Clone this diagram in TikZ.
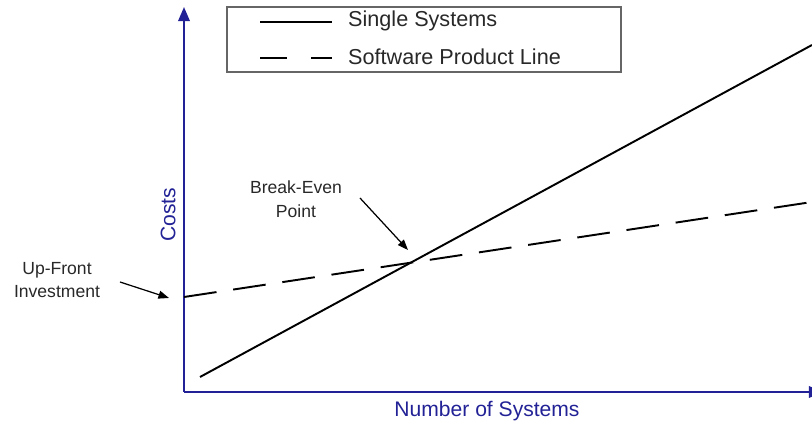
\documentclass[tikz,border=0pt]{standalone}
\usepackage{fontspec}
\setmainfont{Liberation Sans}
\usetikzlibrary{arrows.meta}
\definecolor{axisblue}{RGB}{34,34,150}
\definecolor{notegray}{RGB}{40,40,40}
\tikzset{
  axe/.style={axisblue, line width=1.2pt, -{Triangle[length=8pt,width=6.5pt]}},
  axelabel/.style={text=axisblue, font=\fontsize{12}{14}\selectfont},
  single/.style={line width=1.1pt},
  spl/.style={line width=1.1pt, dash pattern=on 18.7pt off 9.6pt},
  splleg/.style={line width=1.1pt, dash pattern=on 15.3pt off 14pt},
  fleche/.style={line width=0.7pt, -{Triangle[length=6pt,width=4.5pt]}},
  note/.style={text=notegray, font=\fontsize{10}{13.6}\selectfont, align=center},
  legtext/.style={text=notegray, anchor=west, font=\fontsize{12.3}{14}\selectfont},
}
\begin{document}
\begin{tikzpicture}[x=0.02cm, y=-0.02cm]
  \useasboundingbox (0,0) rectangle (812,425);

  % Axes
  \coordinate (O) at (184,392);
  \coordinate (ytop) at (184,7);
  \coordinate (xend) at (823,392);
  \draw[axe] (O) -- (ytop);
  \draw[axe] (O) -- (xend);
  \node[axelabel, rotate=90] (costs) at (168,215) {Costs};
  \node[axelabel] (nbsys) at (487,411) {Number of Systems};

  % Courbes de coûts
  \coordinate (s0) at (200,377);
  \coordinate (s1) at (812,45);
  \coordinate (p0) at (184,297);
  \coordinate (p1) at (812,202);
  \draw[single] (s0) -- (s1);
  \draw[spl] (p0) -- (p1);

  % Légende
  \coordinate (leg1) at (227,7);
  \coordinate (leg2) at (621,72);
  \draw[draw=gray!80!black, line width=0.8pt] (leg1) rectangle (leg2);
  \coordinate (l1a) at (260,22);
  \coordinate (l1b) at (332,22);
  \coordinate (l2a) at (260,58);
  \coordinate (l2b) at (332,58);
  \draw[single] (l1a) -- (l1b);
  \draw[splleg] (l2a) -- (l2b);
  \node[legtext] (single) at (342,21) {Single Systems};
  \node[legtext] (spl) at (342,57) {Software Product Line};

  % Annotations
  \node[note] (upfront) at (57,280) {Up-Front\\Investment};
  \coordinate (uf-a) at (120,282);
  \coordinate (uf-b) at (169,298);
  \draw[fleche] (uf-a) -- (uf-b);

  \node[note] (breakeven) at (296,199) {Break-Even\\Point};
  \coordinate (be-a) at (360,198);
  \coordinate (be-b) at (408,250);
  \draw[fleche] (be-a) -- (be-b);
\end{tikzpicture}
\end{document}
